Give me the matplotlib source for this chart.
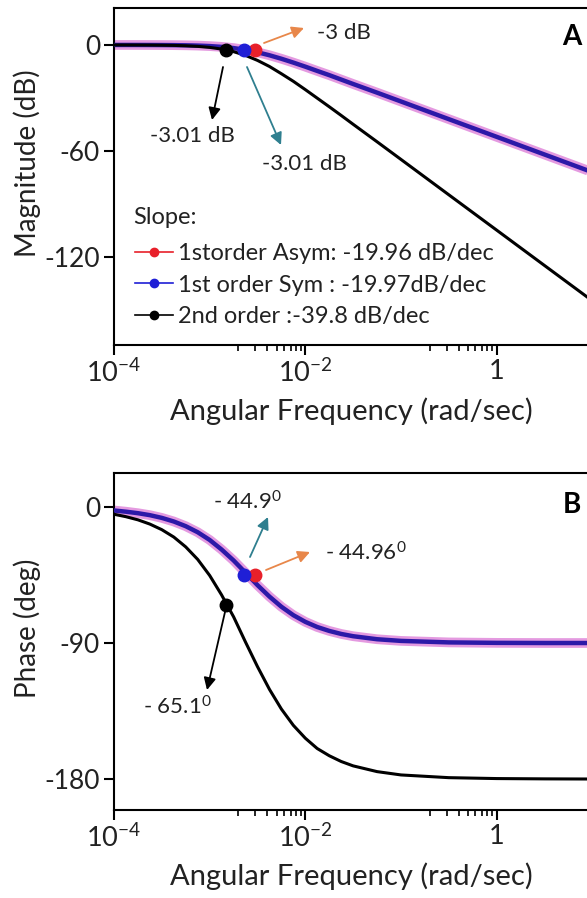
import matplotlib
matplotlib.use("Agg")
import matplotlib.pyplot as plt
from matplotlib.lines import Line2D
from matplotlib.ticker import FixedLocator, FixedFormatter, NullFormatter

# frequency grid (rad/sec), read along the x axis
freq = [1e-4, 1.33e-4, 1.78e-4, 2.37e-4, 3.16e-4, 4.22e-4, 5.62e-4, 7.5e-4,
        1e-3, 1.33e-3, 1.78e-3, 2.37e-3, 3.16e-3, 4.22e-3, 5.62e-3, 7.5e-3,
        1e-2, 1.33e-2, 1.78e-2, 2.37e-2, 3.16e-2, 5.62e-2, 0.1, 0.316,
        1.0, 3.16, 10.0, 31.6, 100.0]

# magnitude (dB)
mag_asym = [-0.01, -0.01, -0.02, -0.04, -0.07, -0.12, -0.21, -0.37,
            -0.65, -1.09, -1.78, -2.79, -4.15, -5.85, -7.82, -10.0,
            -12.3, -14.7, -17.1, -19.6, -22.1, -27.0, -32.0, -42.0,
            -52.0, -62.0, -72.0, -82.0, -92.0]
mag_sym = list(mag_asym)
mag_2nd = [-0.02, -0.03, -0.05, -0.08, -0.15, -0.26, -0.47, -0.81,
           -1.39, -2.34, -3.81, -5.92, -8.75, -12.2, -16.3, -20.6,
           -25.3, -30.1, -35.0, -39.9, -44.9, -54.8, -64.8, -84.8,
           -104.8, -124.8, -144.8, -164.8, -184.8]

# phase (deg)
ph_asym = [-2.3, -3.1, -4.1, -5.4, -7.2, -9.6, -12.7, -16.7,
           -21.8, -28.1, -35.4, -43.5, -51.7, -59.3, -66.0, -71.6,
           -76.0, -79.4, -82.0, -84.0, -85.5, -87.5, -88.6, -89.6,
           -89.9, -90.0, -90.0, -90.0, -90.0]
ph_sym = list(ph_asym)
ph_2nd = [-4.8, -6.4, -8.5, -11.3, -15.0, -19.9, -26.4, -34.7,
          -45.3, -58.1, -72.7, -89.4, -105.6, -120.7, -133.7, -144.5,
          -153.0, -159.8, -164.6, -168.4, -171.3, -175.1, -177.3, -179.1,
          -179.7, -179.9, -180.0, -180.0, -180.0]

# highlighted points
dot_freq = [2.97e-3, 2.3e-3, 1.48e-3]
dot_mag = [-3.0, -3.01, -3.01]
dot_ph = [-44.96, -44.9, -65.1]
dot_colors = ['#e8202a', '#1f1fd6', 'black']

legend_labels = ['1storder Asym: -19.96 dB/dec',
                 '1st order Sym : -19.97dB/dec',
                 '2nd order :-39.8 dB/dec']

xticks = [1e-4, 1e-2, 1.0, 1e2]
xtick_labels = ['$10^{-4}$', '$10^{-2}$', '1', '']
minor_ticks = [m * d for d in (1e-3, 1e-1, 1e1) for m in range(2, 10)]

plt.rcParams['font.family'] = ['Lato', 'DejaVu Sans']
plt.rcParams['mathtext.fontset'] = 'custom'
plt.rcParams['mathtext.rm'] = 'Lato'
plt.rcParams['mathtext.default'] = 'regular'
plt.rcParams['axes.unicode_minus'] = False

W, H = 587, 898
fig = plt.figure(figsize=(W / 100, H / 100), dpi=100)

PINK = '#e49ae0'
BLUE = '#2c19a8'
ORANGE = '#e8874a'
TEAL = '#2f7f8f'
TXT = '#222222'


def px(x, y):
    return (x / W, 1 - y / H)


def arrow(tail, head, color):
    fig.add_artist(matplotlib.patches.FancyArrowPatch(
        px(*tail), px(*head), transform=fig.transFigure,
        arrowstyle='-|>', mutation_scale=18, color=color, lw=1.3,
        shrinkA=0, shrinkB=0))


def setup(ax, yticks, ylim, ylabel, xlabel_y):
    ax.set_xscale('log')
    ax.set_xlim(1e-4, 1e2)
    ax.set_ylim(*ylim)
    ax.xaxis.set_major_locator(FixedLocator(xticks))
    ax.xaxis.set_major_formatter(FixedFormatter(xtick_labels))
    ax.xaxis.set_minor_locator(FixedLocator(minor_ticks))
    ax.xaxis.set_minor_formatter(NullFormatter())
    ax.set_yticks(yticks)
    ax.set_yticklabels([str(v) for v in yticks])
    for s in ax.spines.values():
        s.set_linewidth(1.5)
    ax.tick_params(which='major', length=7, width=1.5, pad=3)
    ax.tick_params(axis='x', which='major', labelsize=19.5, pad=3)
    ax.tick_params(axis='y', which='major', labelsize=19, pad=3)
    ax.tick_params(which='minor', length=4, width=1.2)
    for lab in ax.get_xticklabels() + ax.get_yticklabels():
        lab.set_color(TXT)
    ax.set_ylabel(ylabel, fontsize=20, color=TXT)
    ax.yaxis.set_label_coords(-0.128, 0.54)
    fig.text(*px(351, xlabel_y), 'Angular Frequency (rad/sec)', fontsize=21,
             color=TXT, ha='center', va='center')


axA = fig.add_axes([114 / W, 1 - 345 / H, 574 / W, 337 / H])
axB = fig.add_axes([114 / W, 1 - 810 / H, 574 / W, 337 / H])

for ax, m_a, m_s, m_2, dots in [(axA, mag_asym, mag_sym, mag_2nd, dot_mag),
                                (axB, ph_asym, ph_sym, ph_2nd, dot_ph)]:
    ax.plot(freq, m_a, color=PINK, lw=7, solid_capstyle='butt', zorder=2)
    ax.plot(freq, m_s, color=BLUE, lw=3.2, zorder=3)
    ax.plot(freq, m_2, color='black', lw=2.2, zorder=3)
    for f, v, c in zip(dot_freq, dots, dot_colors):
        ax.plot(f, v, 'o', color=c, ms=9, zorder=5)

setup(axA, [0, -60, -120], (-169.8, 20.9), 'Magnitude (dB)', 411)
setup(axB, [0, -90, -180], (-200.5, 22.5), 'Phase (deg)', 876)

# legend
fig.text(*px(133, 217), 'Slope:', fontsize=17, va='center', color=TXT)
handles = [Line2D([], [], color=c, marker='o', ms=6, lw=1.2) for c in dot_colors]
leg = axA.legend(handles, legend_labels, frameon=False,
                 fontsize=17, handlelength=1.6, handletextpad=0.2,
                 labelspacing=0.45, loc='upper left',
                 bbox_to_anchor=px(135, 243), bbox_transform=fig.transFigure,
                 borderaxespad=0, borderpad=0)
for t in leg.get_texts():
    t.set_color(TXT)

# panel letters
fig.text(*px(572, 37), 'A', fontsize=20, fontweight='bold', ha='center', va='center')
fig.text(*px(572, 505), 'B', fontsize=20, fontweight='bold', ha='center', va='center')

# magnitude annotations
arrow((264, 43), (304, 28), ORANGE)
fig.text(*px(317, 33), '-3 dB', fontsize=16, va='center', color=TXT)
arrow((223, 67), (212, 120), 'black')
fig.text(*px(192, 136), '-3.01 dB', fontsize=16, ha='center', va='center', color=TXT)
arrow((247, 67), (281, 145), TEAL)
fig.text(*px(304, 164), '-3.01 dB', fontsize=16, ha='center', va='center', color=TXT)

# phase annotations
arrow((250, 557), (268, 517), TEAL)
fig.text(*px(247, 502), '- 44.9$^0$', fontsize=16, ha='center', va='center', color=TXT)
arrow((266, 570), (310, 552), ORANGE)
fig.text(*px(325, 553), '- 44.96$^0$', fontsize=16, va='center', color=TXT)
arrow((225, 612), (207, 690), 'black')
fig.text(*px(177, 707), '- 65.1$^0$', fontsize=16, ha='center', va='center', color=TXT)

fig.savefig('out.png', dpi=100)
